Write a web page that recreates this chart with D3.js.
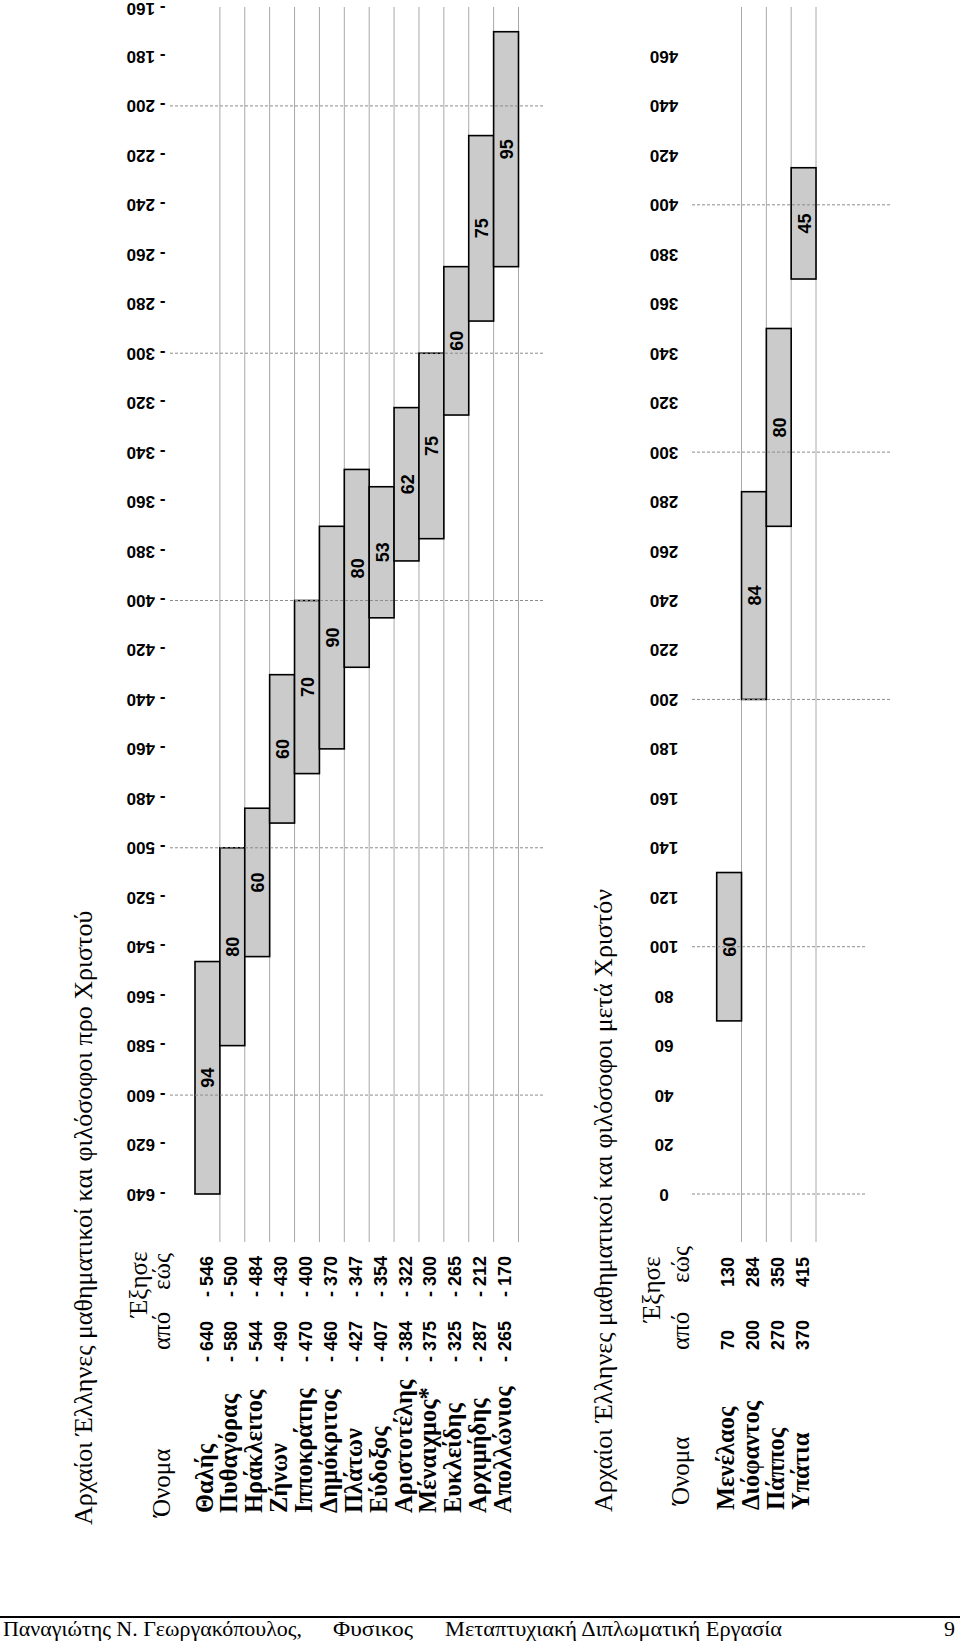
<!DOCTYPE html>
<html>
<head>
<meta charset="utf-8">
<script src="https://cdn.jsdelivr.net/npm/d3@7/dist/d3.min.js"></script>
<style>
	body { margin: 0; background: #fff; }
	svg { display: block; }
</style>
</head>
<body>
<div id="page"></div>
<script>
const page = { width: 960, height: 1647 }

// Philosophers before Christ
const namesBC = ['Θαλής', 'Πυθαγόρας', 'Ηράκλειτος', 'Ζήνων', 'Ιπποκράτης', 'Δημόκριτος', 'Πλάτων',
	'Εύδοξος', 'Αριστοτέλης', 'Μέναιχμος*', 'Ευκλείδης', 'Αρχιμήδης', 'Απολλώνιος']
const bornBC = [-640, -580, -544, -490, -470, -460, -427, -407, -384, -375, -325, -287, -265]
const diedBC = [-546, -500, -484, -430, -400, -370, -347, -354, -322, -300, -265, -212, -170]
const ticksBC = [-640, -620, -600, -580, -560, -540, -520, -500, -480, -460, -440, -420, -400,
	-380, -360, -340, -320, -300, -280, -260, -240, -220, -200, -180, -160]

// Philosophers after Christ
const namesAD = ['Μενέλαος', 'Διόφαντος', 'Πάππος', 'Υπάτια']
const bornAD = [70, 200, 270, 370]
const diedAD = [130, 284, 350, 415]
const ticksAD = [0, 20, 40, 60, 80, 100, 120, 140, 160, 180, 200, 220, 240, 260, 280, 300,
	320, 340, 360, 380, 400, 420, 440, 460]

const serif = "'Liberation Serif', 'Times New Roman', serif"
const sans = "'Liberation Sans', Arial, sans-serif"
const fmtYear = d => d < 0 ? `- ${Math.abs(d)}` : `${d}`

const svg = d3.select('#page')
	.append('svg')
		.attr('width', page.width)
		.attr('height', page.height)

// The page is printed sideways: local x runs up the screen, local y runs to the right
const sheet = svg.append('g')
	.attr('transform', `translate(0, ${page.height}) rotate(-90)`)

// Year scales (same length for both charts)
const xBC = d3.scaleLinear().domain([-640, -160]).range([453, 1640])
const xAD = d3.scaleLinear().domain([0, 480]).range([453, 1640])

function section(cfg) {
	const g = sheet.append('g')
	const rows = cfg.names.map((name, i) => ({ name, born: cfg.born[i], died: cfg.died[i] }))
	const y = d3.scaleBand()
		.domain(cfg.names)
		.range(cfg.band)
	const bw = y.bandwidth()
	const x = cfg.x

	// Title and table header
	g.append('text')
		.attr('x', cfg.title.u).attr('y', cfg.title.v)
		.attr('font-family', serif).attr('font-size', 26)
		.text(cfg.title.text)
	g.append('text')
		.attr('x', cfg.head.lived).attr('y', cfg.head.v1)
		.attr('font-family', serif).attr('font-size', 25)
		.text('Έξησε')
	g.append('text')
		.attr('x', cfg.head.name).attr('y', cfg.head.v2)
		.attr('font-family', serif).attr('font-size', 25)
		.text('Όνομα')
	g.append('text')
		.attr('x', cfg.head.from).attr('y', cfg.head.v2)
		.attr('font-family', serif).attr('font-size', 25)
		.text('από')
	g.append('text')
		.attr('x', cfg.head.to).attr('y', cfg.head.v2)
		.attr('font-family', serif).attr('font-size', 25)
		.text('εώς')

	// Table rows
	const row = g.selectAll('.row')
		.data(rows)
		.enter().append('g')
			.attr('class', 'row')
			.attr('transform', d => `translate(0, ${y(d.name) + 17.5})`)
	row.append('text')
		.attr('x', cfg.col.name)
		.attr('font-family', serif).attr('font-weight', 'bold').attr('font-size', 24.5)
		.text(d => d.name)
	row.append('text')
		.attr('x', cfg.col.from)
		.attr('font-family', sans).attr('font-weight', 'bold').attr('font-size', 18)
		.text(d => fmtYear(d.born))
	row.append('text')
		.attr('x', cfg.col.to)
		.attr('font-family', sans).attr('font-weight', 'bold').attr('font-size', 18)
		.text(d => fmtYear(d.died))

	// Row separators
	g.selectAll('.sep')
		.data(cfg.names)
		.enter().append('line')
			.attr('x1', cfg.sepFrom).attr('x2', x.range()[1])
			.attr('y1', d => y(d) + bw).attr('y2', d => y(d) + bw)
			.attr('stroke', '#a8a8a8').attr('stroke-width', 1)

	// Year labels (upside down on screen)
	g.selectAll('.tick')
		.data(cfg.ticks)
		.enter().append('text')
			.attr('transform', d => `translate(${Math.min(x(d), 1639)}, ${cfg.tickV}) rotate(-90)`)
			.attr('text-anchor', 'middle')
			.attr('dominant-baseline', 'central')
			.attr('font-family', sans).attr('font-weight', 'bold').attr('font-size', 17)
			.text(fmtYear)

	// Bars
	g.selectAll('.bar')
		.data(rows)
		.enter().append('rect')
			.attr('x', d => x(d.born))
			.attr('width', d => x(d.died) - x(d.born))
			.attr('y', d => y(d.name))
			.attr('height', bw)
			.attr('fill', '#cbcbcb')
			.attr('stroke', '#000')
			.attr('stroke-width', 1.6)

	// Dashed century lines, drawn over the bars
	g.selectAll('.century')
		.data(cfg.ticks.filter(d => d % 100 === 0))
		.enter().append('line')
			.attr('x1', d => x(d)).attr('x2', d => x(d))
			.attr('y1', cfg.dash[0])
			.attr('y2', d => cfg.dashEnd ? cfg.dashEnd(d) : cfg.dash[1])
			.attr('stroke', '#8c8c8c').attr('stroke-width', 1)
			.attr('stroke-dasharray', '3,2')

	// Lifespan labels
	g.selectAll('.age')
		.data(rows)
		.enter().append('text')
			.attr('x', d => (x(d.born) + x(d.died)) / 2)
			.attr('y', d => y(d.name) + bw / 2 + 1)
			.attr('text-anchor', 'middle')
			.attr('dominant-baseline', 'central')
			.attr('font-family', sans).attr('font-weight', 'bold').attr('font-size', 18)
			.text(d => d.died - d.born)
}

section({
	title: { text: 'Αρχαίοι Έλληνες μαθηματικοί και φιλόσοφοι προ Χριστού', u: 122, v: 92 },
	head: { lived: 330, v1: 147, name: 130, from: 297, to: 357, v2: 170 },
	col: { name: 134, from: 285, to: 350 },
	names: namesBC, born: bornBC, died: diedBC, ticks: ticksBC, x: xBC,
	band: [195, 518.5],
	sepFrom: 405,
	tickV: 146,
	dash: [170, 543]
})

section({
	title: { text: 'Αρχαίοι Έλληνες μαθηματικοί και φιλόσοφοι μετά Χριστόν', u: 135, v: 612 },
	head: { lived: 325, v1: 660, name: 142, from: 297, to: 364, v2: 689 },
	col: { name: 137, from: 297, to: 360 },
	names: namesAD, born: bornAD, died: diedAD, ticks: ticksAD, x: xAD,
	band: [716.7, 816],
	sepFrom: 405,
	tickV: 664,
	dash: [692, 866],
	dashEnd: d => d >= 200 ? 892 : 866
})

// Footer
svg.append('line')
	.attr('x1', 0).attr('x2', page.width)
	.attr('y1', 1617).attr('y2', 1617)
	.attr('stroke', '#000').attr('stroke-width', 2)
const footer = [
	{ text: 'Παναγιώτης Ν. Γεωργακόπουλος,', x: 3, anchor: 'start', len: 299 },
	{ text: 'Φυσικος', x: 333, anchor: 'start', len: 80 },
	{ text: 'Μεταπτυχιακή Διπλωματική Εργασία', x: 445, anchor: 'start', len: 337 },
	{ text: '9', x: 955, anchor: 'end', len: null }
]
svg.selectAll('.footer')
	.data(footer)
	.enter().append('text')
		.attr('x', d => d.x)
		.attr('y', 1636)
		.attr('text-anchor', d => d.anchor)
		.attr('font-family', serif)
		.attr('font-size', 22)
		.attr('textLength', d => d.len)
		.attr('lengthAdjust', 'spacingAndGlyphs')
		.text(d => d.text)
</script>
</body>
</html>
